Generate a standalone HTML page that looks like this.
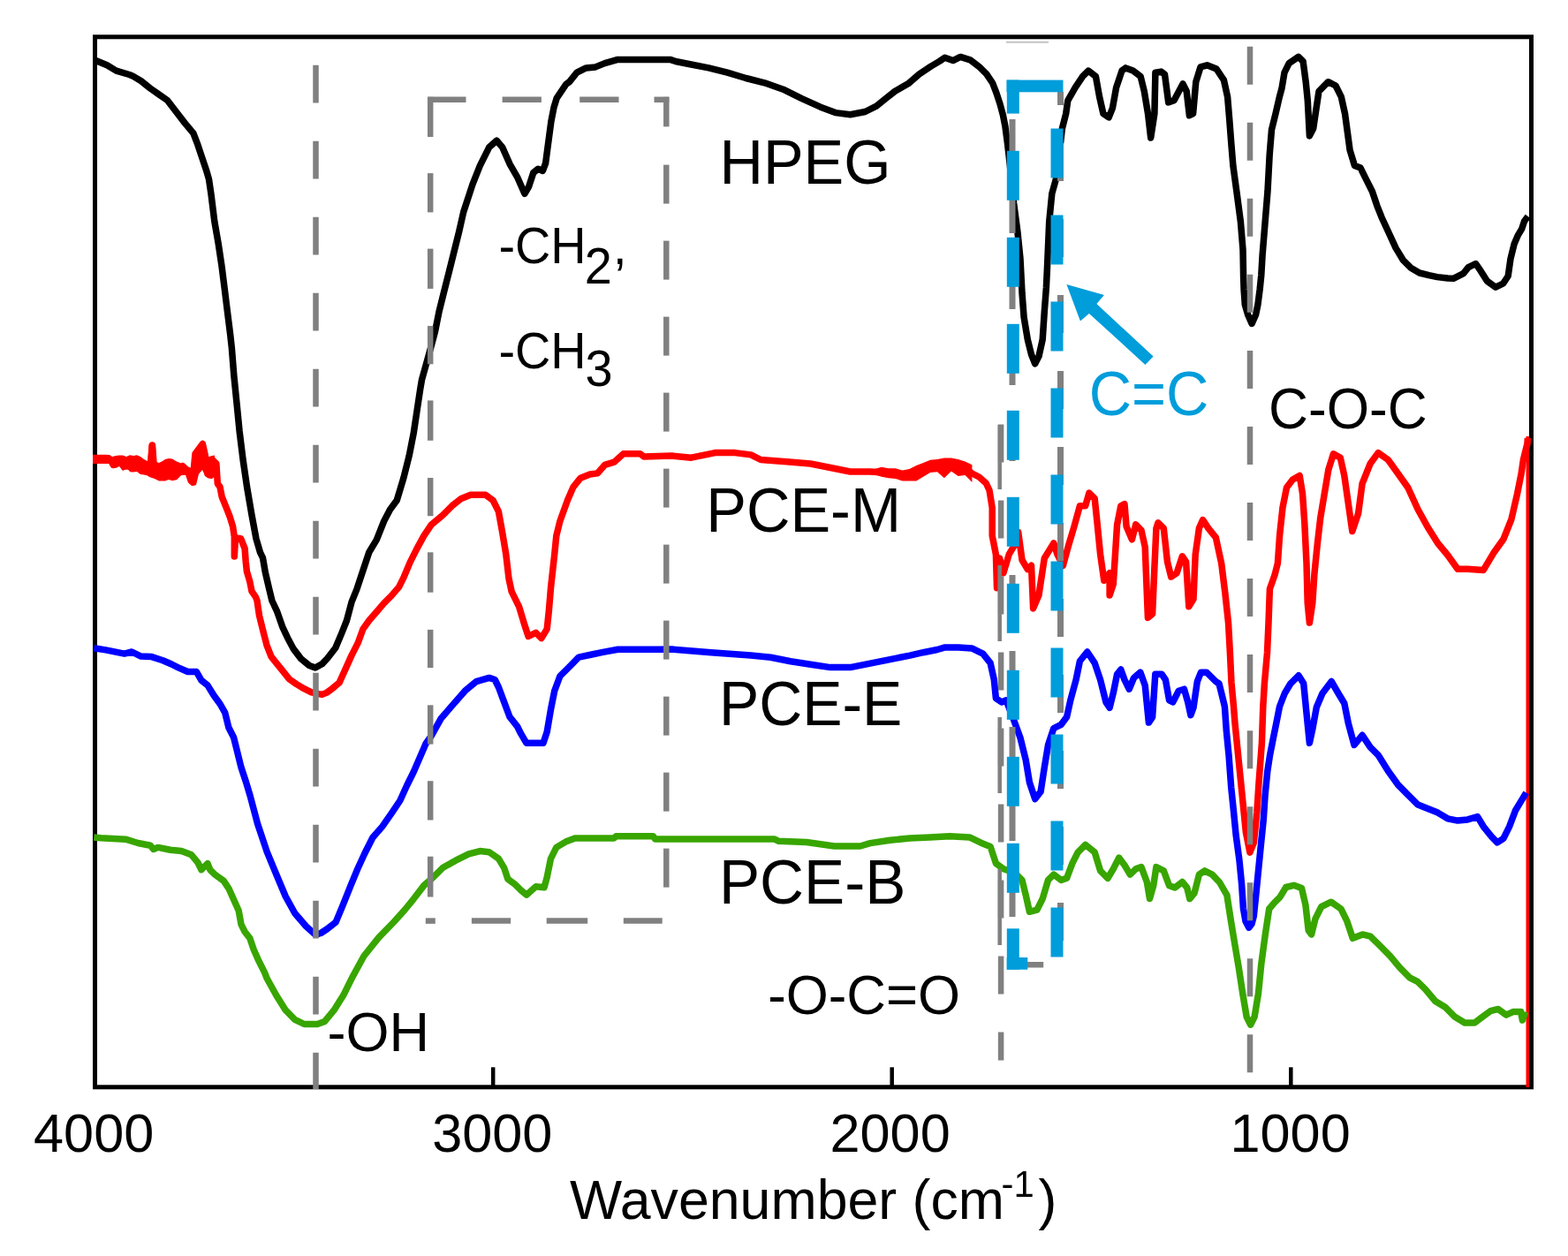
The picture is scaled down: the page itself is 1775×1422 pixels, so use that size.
<!DOCTYPE html>
<html><head><meta charset="utf-8"><title>FTIR spectra</title>
<style>html,body{margin:0;padding:0;background:#fff;}svg{display:block;}text{font-family:"Liberation Sans",Arial,sans-serif;fill:#000;}</style>
</head><body>
<svg xmlns="http://www.w3.org/2000/svg" width="1775" height="1422" viewBox="0 0 1775 1422">
<rect x="0" y="0" width="1775" height="1422" fill="#fff"/>
<rect x="0" y="0" width="1775" height="1422" fill="#fff"/>
<rect x="107.5" y="41.8" width="1626" height="1189" fill="none" stroke="#000" stroke-width="5"/>
<line x1="558.2" y1="1208.3" x2="558.2" y2="1229" stroke="#000" stroke-width="4.5"/>
<line x1="1009.7" y1="1208.3" x2="1009.7" y2="1229" stroke="#000" stroke-width="4.5"/>
<line x1="1461.3" y1="1208.3" x2="1461.3" y2="1229" stroke="#000" stroke-width="4.5"/>
<polyline points="108.4,68.5 121.1,73.8 131.6,80.1 146.4,84.5 150,85.9 159.8,91.8 169.7,99.7 179.5,106.6 189.4,113.5 199.2,126.3 209.1,139.1 218.9,150.9 223.8,163.7 228.7,178.4 233.7,193.2 236.5,203 239,220 242.8,250.6 247.2,275.9 251,301.3 254.2,326.6 257.3,351.9 260.5,377.2 262.3,393.3 264.8,424.9 268,456.6 271.1,488.2 275,519.9 279.6,551.5 285,583.2 290,610 294.5,625.4 297.5,631.6 300.3,647.8 305,668 307.9,680 313.8,692.7 319.7,709.6 325.6,722.2 332.4,734.9 340.8,745.9 350.1,753.5 356.9,756 364.5,751.8 370.5,745.5 379.8,733.5 386.9,716.6 392.5,702.5 398.1,681.4 403.8,667.4 410.8,646.3 417.8,625.2 426.3,611.1 434.7,590 441.5,577 449.2,566.6 456.8,541.3 463.2,515.9 468.2,490.6 472,465.3 475.8,440 477.5,430 488.1,391.9 492.6,375 497.1,352.5 502.7,330 508.4,307.5 514,285 519.6,262.5 524.7,240 534.9,208.8 543.3,187.7 553.8,166.6 562.3,159.2 568.6,166.6 577,185.6 585.5,200.3 593.9,219.3 598.6,211.3 603.8,195.5 609.1,191.3 614.4,193.4 617.6,184.9 619.7,169.1 621.8,153.3 623.9,137.5 627,121.6 630.2,111.1 640.8,95.3 644.6,92.7 653,82.2 663.5,76.9 674.1,75.9 684.6,71.6 699.4,67.4 722.6,67.4 758.5,67.4 764.8,69.5 781.1,72.7 802.2,76.9 823.3,82.2 844.4,88.5 865.5,93.8 886.6,101.2 907.7,111.7 928.8,121.2 945.7,127.6 962.5,129.7 979.4,126.5 992.1,120.2 1002.6,111.7 1013.2,103.3 1028,94.8 1040.7,83.8 1053.4,75.4 1063.5,69.4 1069.5,65.2 1078.8,68.6 1087.2,64.4 1098.2,67.8 1108.3,75.4 1116.8,83.8 1123.6,94 1127.8,104.9 1132,117.6 1135.4,130.3 1137.9,143 1140.5,162.4 1143.4,187.7 1147.6,229.9 1151.8,261.5 1155,293 1157,331.6 1159.1,359.1 1163.3,384.4 1167.5,401.3 1171.7,411.8 1176,403.4 1180.2,384.4 1182.3,352.7 1184.4,325.3 1185.6,300 1187.7,251 1190.8,219.3 1196.1,200.3 1202.4,145.5 1206.7,128.6 1208.8,113.8 1217.2,99.1 1225.7,86.4 1232,80.1 1240.4,86.4 1244.6,109.6 1248.9,128.6 1255.2,132.8 1259.4,122.3 1263.6,99.1 1270,80.1 1274.2,76.9 1282.6,80.1 1291.1,86.4 1295.3,103.3 1299.5,128.6 1302.7,156 1306.9,128.6 1307.9,82.2 1314.3,81.1 1318.5,84.3 1322.7,115.9 1329,113.8 1339,94.9 1343.2,103.3 1346.4,130.7 1350.6,128.6 1353.8,92.7 1359,75.9 1366.4,73.8 1377,78 1385.4,90.6 1389.6,109.6 1391.7,134.9 1393.8,162.4 1395.9,187.7 1400.2,219.3 1404.4,251 1407,282.6 1407.6,314 1408.1,328 1409.3,345 1412.6,356.3 1417.1,366.4 1421.6,356.3 1423.9,345 1426.1,328 1427.8,311.3 1429.1,288.8 1432.1,251.9 1435,216.4 1437.2,175 1439.5,146.9 1443.9,129.2 1448.3,110 1451,100 1454,82.2 1459.2,71.6 1469.8,64.3 1475.1,69.5 1478.2,92.7 1480.3,113.8 1482.4,153.9 1486.7,145.5 1489.8,124.4 1493,103.3 1503.5,92.7 1512,97 1518.3,109.6 1522.5,128.6 1525.4,150 1528.1,170 1533.4,187.4 1540.1,190.1 1545.4,200.8 1553.4,216.8 1558.8,232.8 1564.1,246.2 1572.1,263.5 1580.1,280.9 1588.2,294.3 1597.5,303.6 1606.9,309 1617.6,311.6 1626.9,313.6 1638.9,315 1645.3,315.3 1656.6,309.7 1662.2,302.7 1670.6,298.5 1676.3,306.9 1683.3,318.1 1693.1,325.2 1701.6,321 1707.2,312.5 1710,292.8 1714.2,275.9 1718.5,266.1 1722.7,259.1 1725.5,250.6 1729.7,245" stroke="#000" fill="none" stroke-width="7.5" stroke-linejoin="round" stroke-linecap="butt"/>
<polyline points="105.6,519.4 125.3,520.8 128.1,526.4 133.8,522.2 142.2,527.8 146.4,520.8 149.2,530.6 157.7,522.2 164.7,527.8 170.3,533.4 172.4,503.9 174.5,530.6 178.8,539.1 187.2,536.3 192.8,525 198.5,536.3 206.9,527.8 212.5,533.4 218.1,543.3 221,513.8 229.4,502.5 232.2,515.2 235,536.3 240.6,520.8 244.9,525 246.3,547.5 249,551.2 251.2,562.5 255.7,573.7 260.2,585 263.6,596.2 265.3,607.5 265.3,630 266.5,609 272.6,609.7 277.1,621 278.2,635.6 279.4,646.9 282.7,658.1 285,669.4 289.5,676 291,680 293.5,696.9 297.7,713.8 302,730.7 307,743.3 313.8,751.8 320.5,760.2 327.3,768.7 335.7,774.6 344.2,779.7 352.6,783.9 364.5,786.4 370,784.1 375.6,780 384.1,772.9 391.1,757.4 398.1,741.9 405.2,727.9 410.8,712.4 417.8,702.5 426.3,692.7 434.7,682.9 443.2,674.4 451.6,664.6 457.2,653.3 464.3,636.4 471.3,622.4 479.7,606.9 488.2,594.2 501.1,583.4 511.6,572.8 522.2,564.4 532.7,560.2 549.6,560.2 558.1,566.5 564.4,579.2 568.6,602.4 572.8,627.7 576,655.1 579.2,669.9 587.6,686.8 593.9,707.8 598.1,720.5 606.6,716.3 612.9,722.6 619.2,712.1 621.4,691 623.5,665.7 627.7,627.7 629.8,606.6 634,589.7 642.4,566.5 648.8,551.7 657.2,541.2 667.8,537 676.2,535.9 684.6,526.4 695.2,523.2 705.7,513.8 724.7,513.8 728.9,516.9 760,516 782.5,518.2 809.5,512.6 832,512.6 850,514.9 861.2,520.5 890.5,522.7 917.5,525 940,529.5 962.5,534 985,534 1007.5,535.5 1025,537.5 1037,536 1045,532 1053,528 1061,527 1069,528 1077,526 1085,529 1092.5,530 1100.4,536 1108.3,540 1116.2,547 1120,555 1123.2,574.9 1123.2,606.6 1127.4,627.7 1128.5,665.7 1131.6,631.9 1135.9,648.8 1142.2,627.7 1148.5,617.1 1152.7,602.4 1157,634 1163.3,644.6 1167.5,640.3 1169.6,688.9 1175.9,674.1 1182.3,631.9 1192.8,615 1197,627.7 1203.4,640.3 1209.7,617.1 1216,596 1222.4,572.8 1228.7,572.8 1232.9,558.1 1239.2,564.4 1241.4,585.5 1245.6,627.7 1249.8,657.2 1256.1,648.8 1256.1,674.1 1260.3,661.4 1264.6,593.9 1268.8,572.8 1273,570.7 1275.1,596 1281.4,610.8 1285.7,593.9 1292,600.3 1296.2,619.2 1299.4,699.4 1304.6,695.2 1306.8,644.6 1308.9,598.1 1311,591.8 1317.3,598.1 1321.5,636.1 1325.7,653 1332.1,648.8 1338.4,629.8 1342.6,636.1 1345.8,686.8 1351,678.3 1353.2,627.7 1357.4,598.1 1361.6,588.6 1367.9,598.1 1376.4,608.7 1382.7,638 1386.8,671 1390.5,705 1392.4,739 1394,773 1396.5,800 1398,818.8 1402.5,863.8 1407,908.8 1410.4,942.6 1414.9,965.1 1419.4,953.8 1422.8,920.1 1425,886.3 1428.4,841.3 1429.8,800 1431.5,772.6 1434.5,739 1436,705.1 1437.4,666.8 1443,651.1 1446.4,637.6 1448.6,606 1452,574.5 1456.5,552 1463.3,543 1471.2,538.5 1474.5,558.8 1476.8,592.5 1479,637.6 1480.2,682.6 1482.4,705.1 1485.8,682.6 1488,648.8 1491.4,615 1494.8,585.8 1499.3,558.8 1503.8,531.8 1509.4,513.8 1517.3,518.3 1521.8,538.5 1526.3,570 1530.8,601.5 1537.6,581.3 1542.1,547.5 1551.1,525 1560.1,512.6 1571.3,520.5 1582.6,536.3 1593.8,552 1605.1,576.8 1616.3,597 1627.6,615 1638.8,628.5 1650.1,644.3 1661.3,644.3 1679.3,645.4 1690.6,626.3 1701.9,610.5 1710.9,588 1717.6,558.8 1722.1,536.3 1724.4,520.5 1728.9,502.5 1729.4,496" stroke="#ff0000" fill="none" stroke-width="7.5" stroke-linejoin="round" stroke-linecap="butt"/>
<polygon points="105,514.7 120,514.7 124,515 127,517 131,516 135,515.5 139,515.5 143,517 147,515.3 151,516 155,515.3 159,517 163,520 167,522 168.5,503 176,503 177,523 180,524 184,522 187,520 191,519 195,519.6 200,522.5 205,524.5 210,525.5 213,528.4 217,529.9 219,512 222,508.7 225,502.8 229,499.9 232,502.8 235,517.6 240,516.1 243,515.6 243,539.3 240,542.2 235,541.2 232,538.3 229,531.9 225,536.8 222,549.1 219,550.1 217,550.1 213,546.6 210,537.8 205,538.3 200,543.2 195,544.2 191,543 187,544.6 184,544.6 180,544.6 177,543 175,542 172,541 169,540 167,538.4 163,537.5 159,537 155,534 151,534.4 147,533 143,531 139,533 135,528 131,530 127,529 124,525 120,524.9 105,524.9" fill="#ff0000"/>
<polygon points="990,531 997.9,528.7 1005.8,530.2 1013.7,530.2 1021.5,532.6 1029.4,531 1037.3,527.1 1045.2,523.9 1053.1,520.8 1061,520 1068.9,518.4 1076.8,518.4 1084.6,520 1092.5,522.4 1100.4,526.3 1100.4,546 1092.5,538.1 1084.6,538.9 1076.8,533.4 1068.9,541.3 1061,534.2 1053.1,535 1045.2,539.7 1037.3,544.4 1029.4,544.4 1021.5,544.4 1013.7,542.1 1005.8,541.3 997.9,539.7 990,537.3" fill="#ff0000"/>
<line x1="1729.3" y1="494" x2="1729.3" y2="1231" stroke="#ff0000" stroke-width="3.6"/>
<polyline points="106.3,733.8 119.7,735.9 140.8,740.1 149.2,738 159.1,742.9 171.7,743.6 184.4,747.8 194.2,752 201.3,755.6 212.5,760.5 222.4,760.5 228,770.3 235,775.9 242,787.2 249.1,797 254.7,806.9 258.9,823.8 264.6,835 268.8,851.9 273,868.8 278.6,885.7 283.2,901.1 291.6,932.7 302.2,964.4 312.7,989.7 323.3,1015 333.8,1034 346.5,1048.8 357,1058.3 363.1,1056.5 370,1052 380.1,1044.1 387.8,1025.6 397.1,1002.4 404.8,983.8 412.6,966.8 421.9,948.2 432.7,935.9 443.5,920.4 452.8,906.5 460.5,889.5 468.2,874 477.5,852.4 482,842 488.4,832.8 499,813.8 511.6,799.1 526.4,782.2 539.1,771.6 553.8,767.4 560.2,769.5 564.4,778 570.7,794.9 577,811.7 585.5,822.3 589.7,830.7 596,841.3 615,841.3 619.2,828.6 623.5,803.3 627.7,782.2 634,765.3 644.6,754.8 655.1,744.2 669.9,741 682.5,738.4 699.4,735.3 745.8,735.3 760,735 805,738.7 850,742.1 872.5,744.3 895,748.8 917.5,752.2 940,755.6 962.5,755.6 985,751.1 1007.5,746.6 1030,742.1 1045,738.7 1061,735.5 1069,733.1 1085,733.1 1100,733.9 1112.7,740.1 1121.1,750.6 1125.3,769.6 1127.4,790.7 1133.8,794.9 1139,792.8 1146.4,811.8 1154.9,835 1161.2,860.3 1165.4,885.7 1171.7,904.6 1178.1,896.2 1182.3,868.8 1186.5,843.5 1192.8,824.5 1201.3,820.3 1207.6,811.8 1211.8,792.8 1218.1,769.6 1222.4,748.5 1230.8,738 1239.2,750.6 1245.6,769.6 1251.9,794.9 1256.1,801.3 1260.3,784.4 1264.6,763.3 1268.8,758 1273,769.6 1278.3,780.2 1283.5,767.5 1290.9,761.2 1296.2,775.9 1300.4,818.1 1304.6,811.8 1307.8,763.3 1315.2,763.3 1319.4,769.6 1323.6,792.8 1327.8,794.9 1334.2,782.3 1340.5,780.2 1344.7,794.9 1347.9,809.7 1351,801.3 1355.3,771.7 1359.5,761.2 1365.8,761.2 1376.4,771.7 1380,774 1384,790 1386.4,800 1388.3,827.4 1391,854.8 1393.7,891.3 1396.5,918.7 1399.2,946.1 1402.9,973.5 1405.6,1000.9 1407.4,1028.3 1410,1043 1413.8,1050.2 1417,1046 1419.3,1037.4 1422.1,1010 1424.8,982.6 1427.5,955.3 1430.3,927.9 1432.1,900.5 1434.8,873.1 1437.6,854.8 1441.2,836.5 1444.9,818.3 1448.5,800 1454.3,785 1461,773.8 1470,764.8 1475.7,773.8 1479,807.5 1482.4,841.3 1485.8,825.5 1490.3,800.8 1497,785 1507.2,771.5 1515,785 1521.8,796.3 1526.3,818.8 1533,843.5 1542.1,832.3 1551.1,845.8 1560.1,854.8 1571.3,872.8 1582.6,888.5 1593.8,899.8 1605.1,911.1 1616.3,915.6 1627.6,920.1 1638.8,926.8 1650.1,929.1 1661.3,927.9 1672.6,924.6 1679.3,935.8 1688.4,947.1 1694.9,953.8 1701.9,949.3 1708.6,935.8 1715.4,917.8 1722.1,906.6 1727.7,897.6" stroke="#0000ff" fill="none" stroke-width="7.5" stroke-linejoin="round" stroke-linecap="butt"/>
<polyline points="106.3,948.1 114.1,948.8 142.2,950.2 156.3,954.5 170.3,957.3 173.8,961.5 178.8,959.4 192.8,962.2 205.5,963.6 216.7,967.8 223.8,976.3 228,984.7 235,977.7 237.8,984.7 243.5,990.3 253.3,997.4 258.9,1005.8 264.6,1018.5 270.2,1031.1 273,1046.6 277.2,1055 282.8,1062.1 287.1,1074.7 292.7,1087.4 299.7,1101.4 302.2,1107.8 312.7,1126.8 323.3,1143.7 333.8,1154.3 344.4,1159.5 359.2,1159.5 367.6,1156.4 378.1,1143.7 388.7,1126.8 399.2,1105.7 411.9,1082.5 428.8,1061.4 445.7,1044 458.3,1030 468.2,1017.8 480,1002.4 490.5,993.2 501.1,982.6 515.9,974.2 530.6,966.8 543.3,963.6 553.8,964.7 564.4,972.1 570.7,982.6 574.9,995.3 583.4,1001.6 589.7,1007.9 596,1013.2 606.6,1003.7 616.1,1004.8 619.2,993.2 623.5,972.1 629.8,959.4 640.3,953.1 650.9,948.9 695.2,948.9 697.3,946.8 739.5,946.8 741.6,949.9 760,950.1 877,950.1 881.5,952.3 913,953.5 944.5,958 973.7,958 985,954.6 1007.5,951.2 1030,949 1052.5,947.9 1075,946.7 1097.5,947.9 1110.5,954.2 1121.1,958.4 1127.4,977.4 1135.9,983.8 1148.5,988 1157,996.4 1161.2,1013.3 1165.4,1032.3 1173.8,1030.2 1180.2,1017.5 1186.5,996.4 1192.8,990.1 1201.3,996.4 1207.6,994.3 1213.9,977.4 1220.3,964.8 1228.7,956.3 1239.2,964.8 1245.6,985.9 1254,994.3 1260.3,983.8 1266.7,971.1 1273,979.5 1279.3,990.1 1285.7,983.8 1292,981.6 1298.3,998.5 1301.5,1017.5 1305.7,1002.7 1308.9,981.6 1317.3,985.9 1323.6,1002.7 1330,1004.9 1338.4,998.5 1343.7,1004.9 1346.8,1017.5 1352.1,1011.2 1357.4,990.1 1363.7,985.9 1372.2,990.1 1380.6,999 1388.9,1013.4 1393.4,1042.3 1397.8,1069 1402.3,1095.7 1406.7,1124.6 1411.2,1151.3 1415.6,1160.2 1420.1,1151.3 1424.5,1124.6 1427.8,1091.3 1432.3,1057.9 1436.7,1029 1442.3,1022.3 1449,1015.6 1455.7,1004.5 1464.6,1002.3 1473.5,1005.6 1477.9,1024.5 1481.2,1053.4 1484.6,1057.9 1489,1040.1 1495.7,1026.7 1506.8,1021.2 1518,1029 1524.6,1042.3 1531.3,1062.3 1542.4,1057.9 1551.3,1060.1 1562.5,1071.2 1573.6,1082.4 1584.7,1095.7 1595.8,1106.8 1604.7,1111.3 1613.6,1120.2 1624.8,1133.5 1635.9,1140.2 1647,1151.3 1658.1,1158 1669.3,1158 1678.2,1151.3 1687.1,1144.7 1696,1142.4 1704.9,1149.1 1713.2,1145.4 1721.7,1145.4 1723.4,1155 1726.8,1145.4" stroke="#38a500" fill="none" stroke-width="7.5" stroke-linejoin="round" stroke-linecap="butt"/>
<line x1="357.5" y1="73.8" x2="357.5" y2="1233" stroke="#808080" stroke-width="6.5" stroke-dasharray="42.8 43.2"/>
<line x1="1415" y1="52.7" x2="1415" y2="1214.4" stroke="#808080" stroke-width="6.5" stroke-dasharray="43 43.05"/>
<line x1="1133.1" y1="480.6" x2="1133.1" y2="1200.5" stroke="#808080" stroke-width="6.5" stroke-dasharray="43 43"/>
<line x1="1131.7" y1="481" x2="1131.7" y2="554" stroke="#808080" stroke-width="4.5"/>
<line x1="1131.7" y1="640" x2="1131.7" y2="726" stroke="#808080" stroke-width="4.5"/>
<line x1="1131.7" y1="812" x2="1131.7" y2="898" stroke="#808080" stroke-width="4.5"/>
<line x1="1131.7" y1="984" x2="1131.7" y2="1070" stroke="#808080" stroke-width="4.5"/>
<line x1="484.2" y1="112.8" x2="527.5" y2="112.8" stroke="#808080" stroke-width="6.5"/>
<line x1="568.6" y1="112.8" x2="612.9" y2="112.8" stroke="#808080" stroke-width="6.5"/>
<line x1="656.2" y1="112.8" x2="700.5" y2="112.8" stroke="#808080" stroke-width="6.5"/>
<line x1="740.5" y1="112.8" x2="757.3" y2="112.8" stroke="#808080" stroke-width="6.5"/>
<line x1="487.2" y1="109.8" x2="487.2" y2="155" stroke="#808080" stroke-width="6.5"/>
<line x1="487.2" y1="196.1" x2="487.2" y2="240.4" stroke="#808080" stroke-width="6.5"/>
<line x1="487.2" y1="281.6" x2="487.2" y2="326.9" stroke="#808080" stroke-width="6.5"/>
<line x1="487.2" y1="369" x2="487.2" y2="412.3" stroke="#808080" stroke-width="6.5"/>
<line x1="487.2" y1="453.4" x2="487.2" y2="498.8" stroke="#808080" stroke-width="6.5"/>
<line x1="487.2" y1="541" x2="487.2" y2="584.2" stroke="#808080" stroke-width="6.5"/>
<line x1="487.2" y1="625.3" x2="487.2" y2="670.7" stroke="#808080" stroke-width="6.5"/>
<line x1="487.2" y1="712.9" x2="487.2" y2="756.1" stroke="#808080" stroke-width="6.5"/>
<line x1="487.2" y1="798.3" x2="487.2" y2="842.6" stroke="#808080" stroke-width="6.5"/>
<line x1="487.2" y1="884.2" x2="487.2" y2="928.5" stroke="#808080" stroke-width="6.5"/>
<line x1="487.2" y1="969.7" x2="487.2" y2="1015.5" stroke="#808080" stroke-width="6.5"/>
<line x1="754.3" y1="109.8" x2="754.3" y2="143.4" stroke="#808080" stroke-width="6.5"/>
<line x1="754.3" y1="186.6" x2="754.3" y2="230.6" stroke="#808080" stroke-width="6.5"/>
<line x1="754.3" y1="272.6" x2="754.3" y2="316.6" stroke="#808080" stroke-width="6.5"/>
<line x1="754.3" y1="358.6" x2="754.3" y2="402.6" stroke="#808080" stroke-width="6.5"/>
<line x1="754.3" y1="444.6" x2="754.3" y2="488.6" stroke="#808080" stroke-width="6.5"/>
<line x1="754.3" y1="530.6" x2="754.3" y2="574.6" stroke="#808080" stroke-width="6.5"/>
<line x1="754.3" y1="616.6" x2="754.3" y2="660.6" stroke="#808080" stroke-width="6.5"/>
<line x1="754.3" y1="702.6" x2="754.3" y2="746.6" stroke="#808080" stroke-width="6.5"/>
<line x1="754.3" y1="788.6" x2="754.3" y2="832.6" stroke="#808080" stroke-width="6.5"/>
<line x1="754.3" y1="874.6" x2="754.3" y2="918.6" stroke="#808080" stroke-width="6.5"/>
<line x1="754.3" y1="960.6" x2="754.3" y2="1004.6" stroke="#808080" stroke-width="6.5"/>
<line x1="481.8" y1="1042.6" x2="492.8" y2="1042.6" stroke="#808080" stroke-width="6.5"/>
<line x1="533.9" y1="1042.6" x2="578.2" y2="1042.6" stroke="#808080" stroke-width="6.5"/>
<line x1="618.7" y1="1042.6" x2="665.2" y2="1042.6" stroke="#808080" stroke-width="6.5"/>
<line x1="705.8" y1="1042.6" x2="749.7" y2="1042.6" stroke="#808080" stroke-width="6.5"/>
<line x1="1139" y1="47.8" x2="1187" y2="47.8" stroke="#c4c4c4" stroke-width="2"/>
<line x1="1146" y1="135" x2="1146" y2="178" stroke="#808080" stroke-width="7"/>
<line x1="1146" y1="221" x2="1146" y2="264" stroke="#808080" stroke-width="7"/>
<line x1="1146" y1="307" x2="1146" y2="350" stroke="#808080" stroke-width="7"/>
<line x1="1146" y1="393" x2="1146" y2="436" stroke="#808080" stroke-width="7"/>
<line x1="1146" y1="479" x2="1146" y2="522" stroke="#808080" stroke-width="7"/>
<line x1="1146" y1="565" x2="1146" y2="608" stroke="#808080" stroke-width="7"/>
<line x1="1146" y1="651" x2="1146" y2="694" stroke="#808080" stroke-width="7"/>
<line x1="1146" y1="737" x2="1146" y2="780" stroke="#808080" stroke-width="7"/>
<line x1="1146" y1="823" x2="1146" y2="866" stroke="#808080" stroke-width="7"/>
<line x1="1146" y1="909" x2="1146" y2="952" stroke="#808080" stroke-width="7"/>
<line x1="1146" y1="995" x2="1146" y2="1038" stroke="#808080" stroke-width="7"/>
<line x1="1146" y1="1081" x2="1146" y2="1092" stroke="#808080" stroke-width="7"/>
<line x1="1200.5" y1="104" x2="1200.5" y2="119" stroke="#808080" stroke-width="7"/>
<line x1="1200.5" y1="162" x2="1200.5" y2="205" stroke="#808080" stroke-width="7"/>
<line x1="1200.5" y1="248" x2="1200.5" y2="291" stroke="#808080" stroke-width="7"/>
<line x1="1200.5" y1="334" x2="1200.5" y2="377" stroke="#808080" stroke-width="7"/>
<line x1="1200.5" y1="420" x2="1200.5" y2="463" stroke="#808080" stroke-width="7"/>
<line x1="1200.5" y1="506" x2="1200.5" y2="549" stroke="#808080" stroke-width="7"/>
<line x1="1200.5" y1="592" x2="1200.5" y2="635" stroke="#808080" stroke-width="7"/>
<line x1="1200.5" y1="678" x2="1200.5" y2="721" stroke="#808080" stroke-width="7"/>
<line x1="1200.5" y1="764" x2="1200.5" y2="807" stroke="#808080" stroke-width="7"/>
<line x1="1200.5" y1="850" x2="1200.5" y2="893" stroke="#808080" stroke-width="7"/>
<line x1="1200.5" y1="936" x2="1200.5" y2="979" stroke="#808080" stroke-width="7"/>
<line x1="1200.5" y1="1022" x2="1200.5" y2="1065" stroke="#808080" stroke-width="7"/>
<line x1="1146" y1="1092.3" x2="1181.2" y2="1092.3" stroke="#808080" stroke-width="6.5"/>
<rect x="1139.5" y="90.6" width="64" height="13.7" fill="#009ddb"/>
<line x1="1146.8" y1="90.6" x2="1146.8" y2="128.6" stroke="#009ddb" stroke-width="14"/>
<line x1="1146.8" y1="170.8" x2="1146.8" y2="226.8" stroke="#009ddb" stroke-width="14"/>
<line x1="1146.8" y1="268.8" x2="1146.8" y2="324.8" stroke="#009ddb" stroke-width="14"/>
<line x1="1146.8" y1="366.8" x2="1146.8" y2="422.8" stroke="#009ddb" stroke-width="14"/>
<line x1="1146.8" y1="464.8" x2="1146.8" y2="520.8" stroke="#009ddb" stroke-width="14"/>
<line x1="1146.8" y1="562.8" x2="1146.8" y2="618.8" stroke="#009ddb" stroke-width="14"/>
<line x1="1146.8" y1="660.8" x2="1146.8" y2="716.8" stroke="#009ddb" stroke-width="14"/>
<line x1="1146.8" y1="758.8" x2="1146.8" y2="814.8" stroke="#009ddb" stroke-width="14"/>
<line x1="1146.8" y1="856.8" x2="1146.8" y2="912.8" stroke="#009ddb" stroke-width="14"/>
<line x1="1146.8" y1="954.8" x2="1146.8" y2="1010.8" stroke="#009ddb" stroke-width="14"/>
<line x1="1146.8" y1="1051.3" x2="1146.8" y2="1097.7" stroke="#009ddb" stroke-width="14"/>
<rect x="1139.7" y="1084" width="23.6" height="13.7" fill="#009ddb"/>
<line x1="1196.5" y1="145.5" x2="1196.5" y2="201.5" stroke="#009ddb" stroke-width="14"/>
<line x1="1196.5" y1="243.5" x2="1196.5" y2="299.5" stroke="#009ddb" stroke-width="14"/>
<line x1="1196.5" y1="341.5" x2="1196.5" y2="397.5" stroke="#009ddb" stroke-width="14"/>
<line x1="1196.5" y1="439.5" x2="1196.5" y2="495.5" stroke="#009ddb" stroke-width="14"/>
<line x1="1196.5" y1="537.5" x2="1196.5" y2="593.5" stroke="#009ddb" stroke-width="14"/>
<line x1="1196.5" y1="635.5" x2="1196.5" y2="691.5" stroke="#009ddb" stroke-width="14"/>
<line x1="1196.5" y1="733.5" x2="1196.5" y2="789.5" stroke="#009ddb" stroke-width="14"/>
<line x1="1196.5" y1="831.5" x2="1196.5" y2="887.5" stroke="#009ddb" stroke-width="14"/>
<line x1="1196.5" y1="929.5" x2="1196.5" y2="985.5" stroke="#009ddb" stroke-width="14"/>
<line x1="1196.5" y1="1027.5" x2="1196.5" y2="1083.5" stroke="#009ddb" stroke-width="14"/>
<polygon points="1207.4,322 1249.9,334 1241.4,344 1305.6,403.6 1296.4,412.9 1232.9,354.9 1222.9,363.4" fill="#009ddb"/>
<text transform="translate(814.45,207.79) scale(0.6846,0.7053)" x="0" y="0" font-size="100">HPEG</text>
<text transform="translate(799.25,601.80) scale(0.6852,0.7025)" x="0" y="0" font-size="100">PCE-M</text>
<text transform="translate(814.00,821.49) scale(0.6785,0.7067)" x="0" y="0" font-size="100">PCE-E</text>
<text transform="translate(813.89,1022.79) scale(0.6921,0.7067)" x="0" y="0" font-size="100">PCE-B</text>
<text transform="translate(1232.76,470.20) scale(0.6686,0.7011)" x="0" y="0" font-size="100" style="fill:#009ddb">C=C</text>
<text transform="translate(1436.09,485.06) scale(0.6221,0.6389)" x="0" y="0" font-size="100">C-O-C</text>
<text transform="translate(869.22,1147.68) scale(0.6175,0.6205)" x="0" y="0" font-size="100">-O-C=O</text>
<text transform="translate(370.56,1189.67) scale(0.6307,0.6304)" x="0" y="0" font-size="100">-OH</text>
<text transform="translate(564.39,297.93) scale(0.5582,0.5668)" x="0" y="0" font-size="100">-CH</text>
<text transform="translate(564.39,417.13) scale(0.5582,0.5668)" x="0" y="0" font-size="100">-CH</text>
<text transform="translate(661.81,321.00) scale(0.5582,0.5668)" x="0" y="0" font-size="100">2</text>
<text transform="translate(693.98,299.07) scale(0.5582,0.5668)" x="0" y="0" font-size="100">,</text>
<text transform="translate(662.51,436.83) scale(0.5582,0.5668)" x="0" y="0" font-size="100">3</text>
<text transform="translate(38.05,1304.21) scale(0.6125,0.6180)" x="0" y="0" font-size="100">4000</text>
<text transform="translate(489.14,1304.21) scale(0.6125,0.6180)" x="0" y="0" font-size="100">3000</text>
<text transform="translate(939.50,1304.21) scale(0.6125,0.6180)" x="0" y="0" font-size="100">2000</text>
<text transform="translate(1392.49,1304.21) scale(0.6125,0.6180)" x="0" y="0" font-size="100">1000</text>
<text transform="translate(644.89,1380.10) scale(0.6267,0.6350)" x="0" y="0" font-size="100">Wavenumber (cm</text>
<text transform="translate(1133.62,1354.80) scale(0.4175,0.4175)" x="0" y="0" font-size="100">-1</text>
<text transform="translate(1175.53,1380.10) scale(0.6267,0.6350)" x="0" y="0" font-size="100">)</text>
</svg>
</body></html>
